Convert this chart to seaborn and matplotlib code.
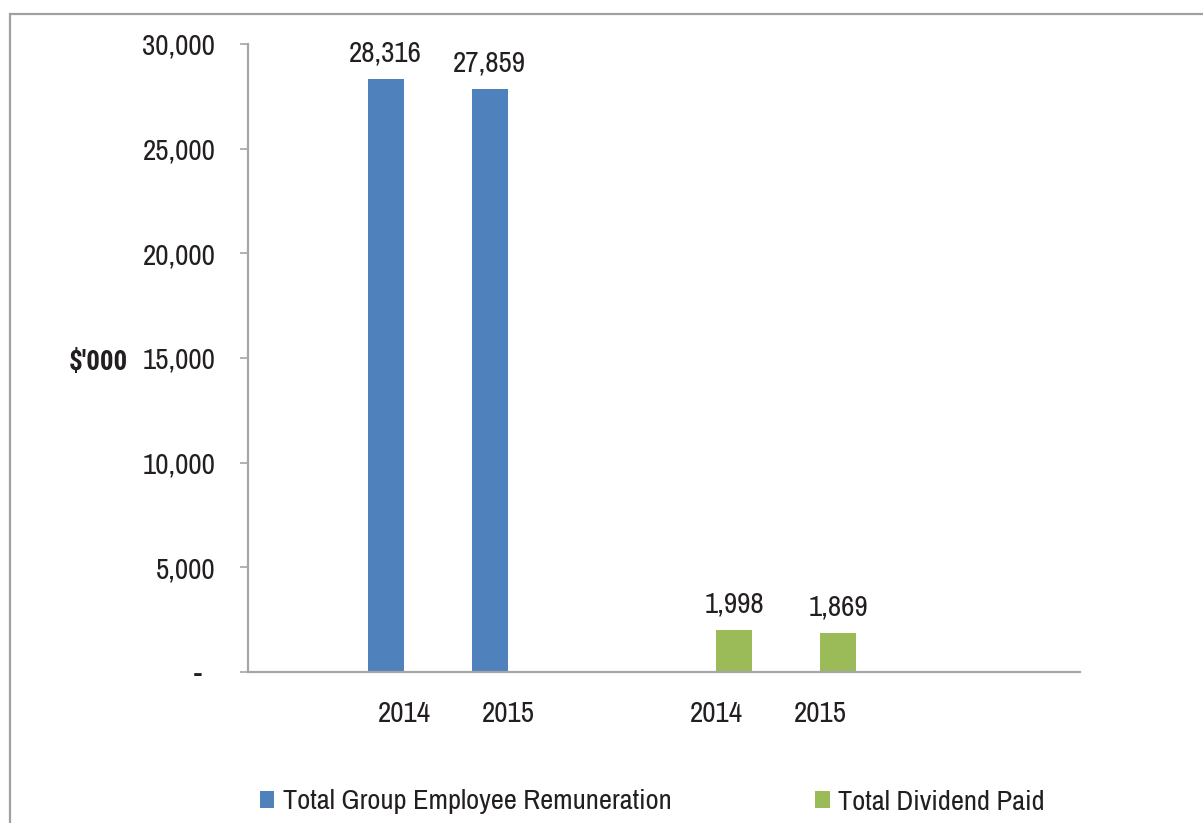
import matplotlib
matplotlib.use("Agg")
import matplotlib.pyplot as plt
from matplotlib.patches import Rectangle
from matplotlib.ticker import FuncFormatter
import pandas as pd
import seaborn as sns

# Chart data ($'000)
years = ["2014", "2015"]
series_names = ["Total Group Employee Remuneration", "Total Dividend Paid"]
remuneration = [28316, 27859]
dividend = [1998, 1869]
y_ticks = [0, 5000, 10000, 15000, 20000, 25000, 30000]

BLUE = "#4F81BD"
GREEN = "#9BBB59"
TEXT = "#231F20"
AXIS = "#A6A6A6"

sns.set_theme(style="white")
plt.rcParams["font.family"] = ["Archivo Narrow", "DejaVu Sans"]
plt.rcParams["text.color"] = TEXT

# Category axis: 8 slots, each series occupies two consecutive slots
n_slots = 8
group_start = {series_names[0]: 1, series_names[1]: 4}
slots = [f"s{i}" for i in range(n_slots)]
slot_labels = [""] * n_slots

rows = []
for name, values in zip(series_names, [remuneration, dividend]):
    for k, (yr, v) in enumerate(zip(years, values)):
        idx = group_start[name] + k
        slot_labels[idx] = yr
        rows.append({"slot": slots[idx], "series": name, "value": v})
df = pd.DataFrame(rows)

fig = plt.figure(figsize=(12.03, 8.23), dpi=100)
ax = fig.add_axes([248 / 1203, 1 - 672 / 823, (1080 - 248) / 1203, (672 - 44) / 823])

sns.barplot(data=df, x="slot", y="value", hue="series", order=slots,
            hue_order=series_names, palette=[BLUE, GREEN], saturation=1,
            width=0.7, dodge=True, gap=0, linewidth=0, ax=ax)

ax.set_ylim(0, 30000)
ax.set_xlim(-0.5, n_slots - 0.5)
ax.set_yticks(y_ticks)
ax.yaxis.set_major_formatter(FuncFormatter(lambda v, p: "-  " if v == 0 else f"{v:,.0f}"))
ax.set_xticks(range(n_slots))
ax.set_xticklabels(slot_labels)

for c in ax.containers:
    ax.bar_label(c, fmt="{:,.0f}", padding=9, fontsize=21, color=TEXT)

for side in ["top", "right"]:
    ax.spines[side].set_visible(False)
for side in ["left", "bottom"]:
    ax.spines[side].set_color(AXIS)
    ax.spines[side].set_linewidth(1.6)

ax.tick_params(axis="y", which="major", length=5.5, width=1.2, color=AXIS,
               direction="out", pad=18, labelsize=21, labelcolor=TEXT, left=True)
ax.tick_params(axis="x", length=0, pad=20, labelsize=21, labelcolor=TEXT)

ax.set_xlabel("")
ax.set_ylabel("")
fig.text(98 / 1203, 1 - 362 / 823, "$'000", ha="center", va="center", fontsize=19.5,
         fontweight="bold", family=["Roboto Condensed", "DejaVu Sans"], color=TEXT)

handles, labels = ax.get_legend_handles_labels()
if ax.get_legend() is not None:
    ax.get_legend().remove()
fig.legend(handles, labels, loc="center left", bbox_to_anchor=(260 / 1203, 1 - 802 / 823),
           ncol=2, frameon=False, fontsize=20.5, handlelength=0.5, handleheight=0.5,
           handletextpad=0.3, columnspacing=5.05, borderpad=0, borderaxespad=0)

# Outer chart frame
fig.patches.append(Rectangle((9.5 / 1203, -0.05), 1.2, 1 - 14 / 823 + 0.05,
                             transform=fig.transFigure, fill=False,
                             edgecolor="#A0A0A0", linewidth=1.6, zorder=0))

fig.savefig("out.png", dpi=100)
